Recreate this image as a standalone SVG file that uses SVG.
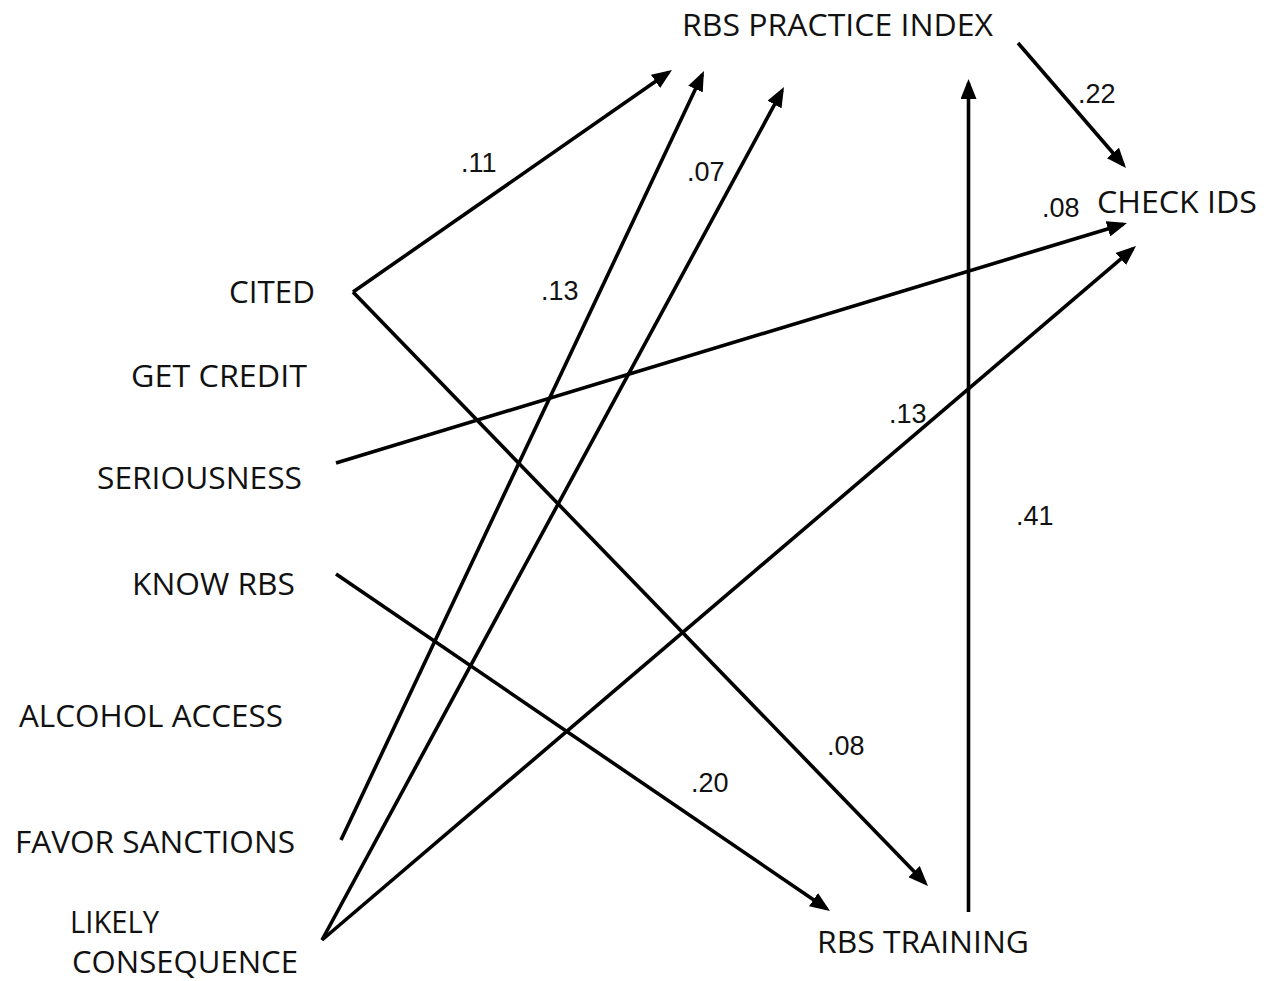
<svg xmlns="http://www.w3.org/2000/svg" width="1274" height="981" viewBox="0 0 1274 981">
  <style>
    .lbl { font-family: "Open Sans", "Noto Sans", "Liberation Sans", sans-serif; font-size: 31px; fill: #111; }
    .coef { font-family: "Liberation Sans", Arial, sans-serif; font-size: 27px; fill: #111; }
    .edge { stroke: #000; stroke-width: 3.6; fill: none; marker-end: url(#head); }
  </style>
  <defs>
    <marker id="head" viewBox="0 0 20 16" refX="16" refY="8" markerWidth="20" markerHeight="16" markerUnits="userSpaceOnUse" orient="auto">
      <path d="M0,0 L20,8 L0,16 Z" fill="#000"/>
    </marker>
  </defs>
  <rect width="1274" height="981" fill="#fff"/>

  <!-- Variables -->
  <g id="node-practice-index"><text class="lbl" x="682" y="36" textLength="311" lengthAdjust="spacingAndGlyphs">RBS PRACTICE INDEX</text></g>
  <g id="node-check-ids"><text class="lbl" x="1097" y="213" textLength="160" lengthAdjust="spacingAndGlyphs">CHECK IDS</text></g>
  <g id="node-cited"><text class="lbl" x="229" y="303" textLength="86" lengthAdjust="spacingAndGlyphs">CITED</text></g>
  <g id="node-get-credit"><text class="lbl" x="131" y="387" textLength="176" lengthAdjust="spacingAndGlyphs">GET CREDIT</text></g>
  <g id="node-seriousness"><text class="lbl" x="97" y="489" textLength="205" lengthAdjust="spacingAndGlyphs">SERIOUSNESS</text></g>
  <g id="node-know-rbs"><text class="lbl" x="132" y="595" textLength="163" lengthAdjust="spacingAndGlyphs">KNOW RBS</text></g>
  <g id="node-alcohol-access"><text class="lbl" x="19" y="727" textLength="264" lengthAdjust="spacingAndGlyphs">ALCOHOL ACCESS</text></g>
  <g id="node-favor-sanctions"><text class="lbl" x="15" y="853" textLength="280" lengthAdjust="spacingAndGlyphs">FAVOR SANCTIONS</text></g>
  <g id="node-likely-consequence">
    <text class="lbl" x="70" y="933" textLength="89" lengthAdjust="spacingAndGlyphs">LIKELY</text>
    <text class="lbl" x="72" y="973" textLength="226" lengthAdjust="spacingAndGlyphs">CONSEQUENCE</text>
  </g>
  <g id="node-rbs-training"><text class="lbl" x="817" y="953" textLength="212" lengthAdjust="spacingAndGlyphs">RBS TRAINING</text></g>

  <!-- Paths -->
  <g id="connectors">
    <line class="edge" x1="353" y1="292" x2="668.7" y2="72.3"/>
    <line class="edge" x1="353" y1="292" x2="925.2" y2="883.1"/>
    <line class="edge" x1="341" y1="840" x2="702.3" y2="74.6"/>
    <line class="edge" x1="322" y1="940" x2="782.1" y2="90.5"/>
    <line class="edge" x1="322" y1="940" x2="1133" y2="248.6"/>
    <line class="edge" x1="336" y1="463" x2="1123.2" y2="224.2"/>
    <line class="edge" x1="336" y1="574" x2="826.7" y2="908.7"/>
    <line class="edge" x1="968.5" y1="912" x2="968.5" y2="83"/>
    <line class="edge" x1="1018" y1="43" x2="1123.4" y2="165"/>
  </g>

  <!-- Path coefficients -->
  <g id="coefficients">
    <text class="coef" x="461" y="172">.11</text>
    <text class="coef" x="687" y="181">.07</text>
    <text class="coef" x="541" y="300">.13</text>
    <text class="coef" x="1078" y="103">.22</text>
    <text class="coef" x="1042" y="217">.08</text>
    <text class="coef" x="889" y="423">.13</text>
    <text class="coef" x="1016" y="525">.41</text>
    <text class="coef" x="827" y="755">.08</text>
    <text class="coef" x="691" y="792">.20</text>
  </g>
</svg>
